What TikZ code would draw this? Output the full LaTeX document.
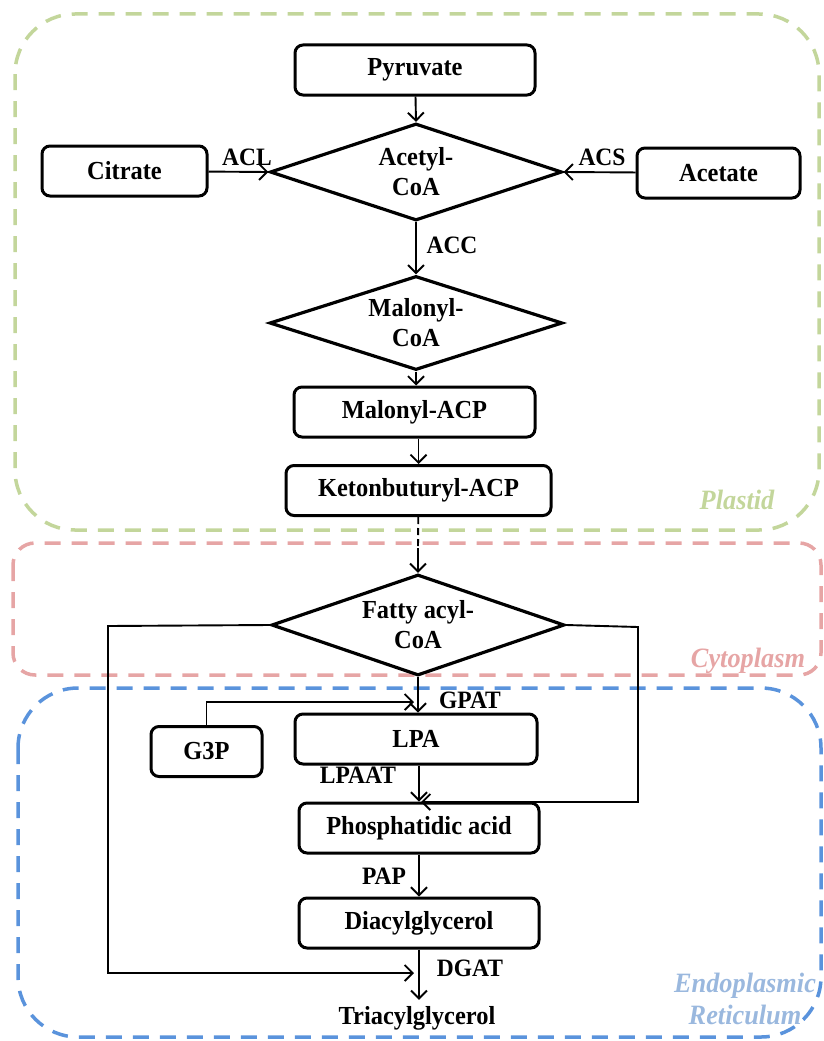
\documentclass[tikz,border=0pt]{standalone}
\usepackage{fontspec}
\usetikzlibrary{arrows.meta,shapes.geometric}
\newfontfamily\labfont[FakeStretch=0.94]{Liberation Serif}
\definecolor{plastidc}{HTML}{C3D69B}
\definecolor{cytoc}{HTML}{E6A5A5}
\definecolor{erc}{HTML}{5A93DC}
\definecolor{ertext}{HTML}{9AB8DE}
\tikzset{
  x=1pt, y=-1pt,
  every node/.style={font=\labfont\bfseries\fontsize{26}{30}\selectfont, inner sep=0pt},
  stepbox/.style={draw, line width=3pt, rounded corners=8pt, minimum height=50pt},
  choice/.style={draw, diamond, line width=3.2pt, aspect=3, align=center},
  flow/.style={line width=1.9pt, -{Straight Barb[length=8pt,width=16pt,line width=1.9pt]}},
  plain/.style={line width=1.9pt},
  region/.style={line width=3.5pt, dash pattern=on 16pt off 11pt},
  tag/.style={font=\labfont\bfseries\fontsize{25}{28}\selectfont},
  zone/.style={font=\labfont\bfseries\itshape\fontsize{28}{32}\selectfont, align=center}
}
\begin{document}
\begin{tikzpicture}
\useasboundingbox (0,0) rectangle (823,1041);

% compartments
\draw[region, plastidc, rounded corners=60pt] (15,14) rectangle (819,530);
\draw[region, cytoc, rounded corners=22pt] (13,543) rectangle (821,675);
\draw[region, erc, rounded corners=60pt] (18,688) rectangle (821,1037);
\node[zone, text=plastidc] (lplastid) at (737,500) {Plastid};
\node[zone, text=cytoc] (lcyto) at (748,661) {Cytoplasm};
\node[zone, text=ertext] (ler) at (745,999) {Endoplasmic\\Reticulum};

% metabolites
\node[stepbox, minimum width=240pt] (pyr) at (415,70) {Pyruvate};
\node[stepbox, minimum width=165pt] (cit) at (124.5,171) {Citrate};
\node[stepbox, minimum width=163pt] (ace) at (718.5,173) {Acetate};
\node[choice, minimum width=292pt, minimum height=97pt] (acoa) at (416,172) {Acetyl-\\CoA};
\node[choice, minimum width=293pt, minimum height=94pt] (mcoa) at (416,323) {Malonyl-\\CoA};
\node[stepbox, minimum width=241pt] (macp) at (414.5,412) {Malonyl-ACP};
\node[stepbox, minimum width=265pt] (kacp) at (418.5,490.5) {Ketonbuturyl-ACP};
\node[choice, minimum width=293pt, minimum height=101pt] (fcoa) at (418,625) {Fatty acyl-\\CoA};
\node[stepbox, minimum width=242pt] (lpa) at (416,739) {LPA};
\node[stepbox, minimum width=111pt] (g3p) at (206.5,751.5) {G3P};
\node[stepbox, minimum width=240pt] (pa) at (419,828) {Phosphatidic acid};
\node[stepbox, minimum width=240pt] (dag) at (419,923) {Diacylglycerol};
\node (tag) at (417,1018) {Triacylglycerol};

% enzyme labels
\node[tag] (acl) at (247,157) {ACL};
\node[tag] (acs) at (602,157) {ACS};
\node[tag] (acc) at (452,245) {ACC};
\node[tag] (gpat) at (470,700) {GPAT};
\node[tag] (lpaat) at (358,775) {LPAAT};
\node[tag] (pap) at (384,876) {PAP};
\node[tag] (dgat) at (470,968) {DGAT};

% junction points
\coordinate (gjoin) at (416,702);
\coordinate (pjoin) at (419,802);
\coordinate (djoin) at (417,973);
\coordinate (kmid) at (418,548);

% plastid pathway
\draw[flow] (pyr) -- (acoa.north);
\draw[flow] (cit) -- (acoa.west);
\draw[flow] (ace) -- (acoa.east);
\draw[flow] (acoa.south) -- (mcoa.north);
\draw[flow] (mcoa.south) -- (mcoa.south |- macp.north);
\draw[flow] (macp.south -| kacp.north) -- (kacp.north);
\draw[plain, dash pattern=on 7pt off 4pt] (kacp) -- (kmid);
\draw[flow] (kmid) -- (fcoa.north);

% ER pathway
\draw[flow] (fcoa.south) -- (fcoa.south |- lpa.north);
\draw[flow] (g3p.north) |- ([xshift=-2pt]gjoin);
\draw[flow] (pa.north |- lpa.south) -- (pa.north);
\draw[flow] (fcoa.east) -- (638,627) |- ([xshift=2pt]pjoin);
\draw[flow] (pa) -- (dag);
\draw[flow] (dag) -- ([yshift=6pt]tag.north -| dag.south);
\draw[flow] (fcoa.west) -- (108,626) |- ([xshift=-3pt]djoin);
\end{tikzpicture}
\end{document}
